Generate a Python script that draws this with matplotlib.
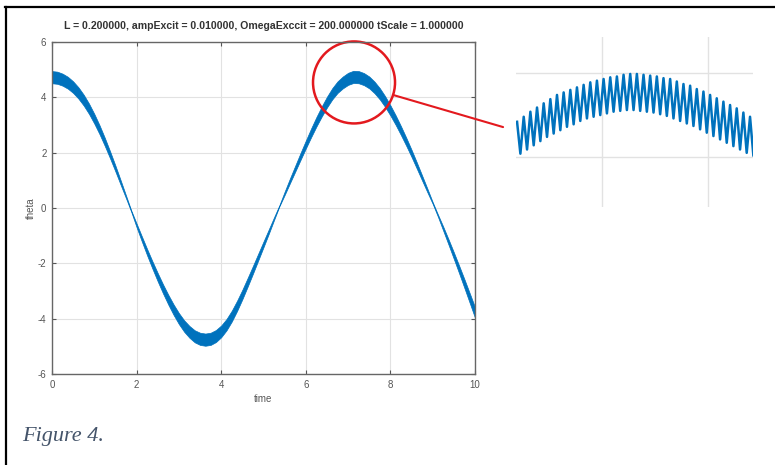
import numpy as np
import matplotlib
matplotlib.use("Agg")
import matplotlib.pyplot as plt
from matplotlib.patches import Ellipse, ConnectionPatch
from matplotlib.lines import Line2D

# Slow motion (centre of the blue band) and half-height of the fast wiggle
time = [0.0, 0.125, 0.25, 0.375, 0.5, 0.625, 0.75, 0.875, 1.0, 1.125, 1.25, 1.375, 1.5, 1.625,
        1.75, 1.875, 2.0, 2.125, 2.25, 2.375, 2.5, 2.625, 2.75, 2.875, 3.0, 3.125, 3.25, 3.375,
        3.5, 3.625, 3.75, 3.875, 4.0, 4.125, 4.25, 4.375, 4.5, 4.625, 4.75, 4.875, 5.0, 5.125,
        5.25, 5.375, 5.5, 5.625, 5.75, 5.875, 6.0, 6.125, 6.25, 6.375, 6.5, 6.625, 6.75, 6.875,
        7.0, 7.125, 7.25, 7.375, 7.5, 7.625, 7.75, 7.875, 8.0, 8.125, 8.25, 8.375, 8.5, 8.625,
        8.75, 8.875, 9.0, 9.125, 9.25, 9.375, 9.5, 9.625, 9.75, 9.875, 10.0]
theta_mid = [4.72, 4.70, 4.63, 4.52, 4.36, 4.15, 3.89, 3.58, 3.22, 2.82, 2.38, 1.91, 1.42, 0.91,
             0.40, -0.12, -0.63, -1.12, -1.60, -2.06, -2.50, -2.92, -3.31, -3.67, -3.99, -4.26,
             -4.47, -4.63, -4.72, -4.75, -4.72, -4.62, -4.45, -4.21, -3.90, -3.53, -3.12, -2.68,
             -2.23, -1.77, -1.31, -0.85, -0.38, 0.08, 0.53, 0.98, 1.42, 1.86, 2.29, 2.71, 3.11,
             3.48, 3.82, 4.12, 4.36, 4.53, 4.66, 4.73, 4.72, 4.65, 4.53, 4.35, 4.12, 3.84, 3.52,
             3.17, 2.79, 2.39, 1.97, 1.53, 1.08, 0.63, 0.18, -0.28, -0.75, -1.23, -1.72, -2.22,
             -2.73, -3.25, -3.77]
band_half = [0.220, 0.219, 0.217, 0.214, 0.209, 0.204, 0.196, 0.186, 0.175, 0.161, 0.146, 0.127,
             0.107, 0.082, 0.050, 0.025, 0.066, 0.093, 0.115, 0.133, 0.150, 0.164, 0.177, 0.189,
             0.199, 0.206, 0.213, 0.217, 0.220, 0.220, 0.220, 0.217, 0.212, 0.205, 0.196, 0.185,
             0.171, 0.157, 0.140, 0.122, 0.102, 0.079, 0.049, 0.020, 0.059, 0.086, 0.107, 0.126,
             0.142, 0.158, 0.171, 0.183, 0.194, 0.203, 0.209, 0.214, 0.218, 0.220, 0.220, 0.218,
             0.214, 0.209, 0.203, 0.194, 0.184, 0.173, 0.161, 0.146, 0.129, 0.112, 0.091, 0.066,
             0.031, 0.040, 0.073, 0.098, 0.120, 0.139, 0.159, 0.175, 0.192]

# Zoomed detail near the second maximum: peaks and troughs of the fast wiggle
zoom_t0 = 6.599
zoom_period = 0.0314
zoom_peaks = [4.42, 4.48, 4.54, 4.59, 4.64, 4.69, 4.74, 4.77, 4.80, 4.83, 4.86, 4.89,
              4.91, 4.93, 4.95, 4.96, 4.98, 4.99, 4.99, 4.98, 4.97, 4.96, 4.94, 4.93,
              4.90, 4.87, 4.85, 4.81, 4.78, 4.74, 4.70, 4.66, 4.62, 4.58, 4.53, 4.48]
zoom_troughs = [4.04, 4.09, 4.14, 4.19, 4.24, 4.28, 4.32, 4.36, 4.39, 4.43, 4.46, 4.48,
                4.50, 4.52, 4.54, 4.55, 4.56, 4.56, 4.55, 4.54, 4.53, 4.51, 4.49, 4.46,
                4.43, 4.40, 4.37, 4.33, 4.29, 4.25, 4.21, 4.17, 4.13, 4.09, 4.05, 4.02]

title = "L = 0.200000, ampExcit = 0.010000, OmegaExccit = 200.000000 tScale = 1.000000"
blue = "#0072BD"
red = "#E3191E"
W, H = 775, 465

plt.rcParams['font.family'] = ['Liberation Sans', 'DejaVu Sans']
plt.rcParams['axes.unicode_minus'] = False
fig = plt.figure(figsize=(7.75, 4.65), dpi=100)

# main axes
mid = np.array(theta_mid)
half = np.array(band_half)
ax = fig.add_axes([52 / W, 1 - 374.3 / H, 423 / W, 332.6 / H])
ax.fill_between(time, mid - half, mid + half, color=blue, lw=0.5, edgecolor=blue)
ax.set_xlim(0, 10)
ax.set_ylim(-6, 6)
ax.set_xticks(range(0, 11, 2))
ax.set_yticks(range(-6, 7, 2))
ax.grid(True, color="#e2e2e2", lw=0.8)
ax.set_axisbelow(True)
ax.tick_params(direction="in", top=True, right=True, length=3, width=0.8,
               labelsize=7, colors="#555555", pad=4)
for s in ax.spines.values():
    s.set_color("#666666")
    s.set_linewidth(1.0)
ax.set_xlabel("time", fontsize=7, color="#555555", labelpad=3)
ax.set_ylabel("theta", fontsize=7, color="#555555", labelpad=1)
ax.set_title(title, fontsize=7.6, fontweight="bold", color="#333333", pad=9)

# red circle around the second maximum
circ = Ellipse((7.14, 4.53), 82 / 42.3, 82 / 27.72, fill=False, ec=red, lw=1.8, clip_on=False)
ax.add_patch(circ)

# inset with the fast oscillation
ins = fig.add_axes([516 / W, 1 - 207 / H, 237 / W, 170 / H])
zx, zy = [], []
for i in range(len(zoom_peaks)):
    zx += [zoom_t0 + i * zoom_period, zoom_t0 + (i + 0.5) * zoom_period]
    zy += [zoom_peaks[i], zoom_troughs[i]]
ins.plot(zx, zy, color=blue, lw=1.8)
ins.set_xlim(6.594, 7.712)
ins.set_ylim(3.405, 5.43)
ins.set_xticks([7.0, 7.5])
ins.set_yticks([4.0, 5.0])
ins.grid(True, color="#e2e2e2", lw=1.0)
ins.tick_params(length=0, labelbottom=False, labelleft=False)
for s in ins.spines.values():
    s.set_visible(False)

con = ConnectionPatch(xyA=(8.06, 4.08), coordsA=ax.transData,
                      xyB=(6.533, 4.357), coordsB=ins.transData,
                      color=red, lw=1.5)
fig.add_artist(con)

# page border and caption
fig.add_artist(Line2D([5 / W, 1], [1 - 7 / H, 1 - 7 / H], color="black", lw=1.6))
fig.add_artist(Line2D([6 / W, 6 / W], [0, 1 - 7 / H], color="black", lw=1.6))
fig.text(22 / W, 1 - 441 / H, "Figure 4.", fontsize=16, style="italic",
         family="Liberation Serif", color="#44546A")

fig.savefig("out.png", dpi=100)
